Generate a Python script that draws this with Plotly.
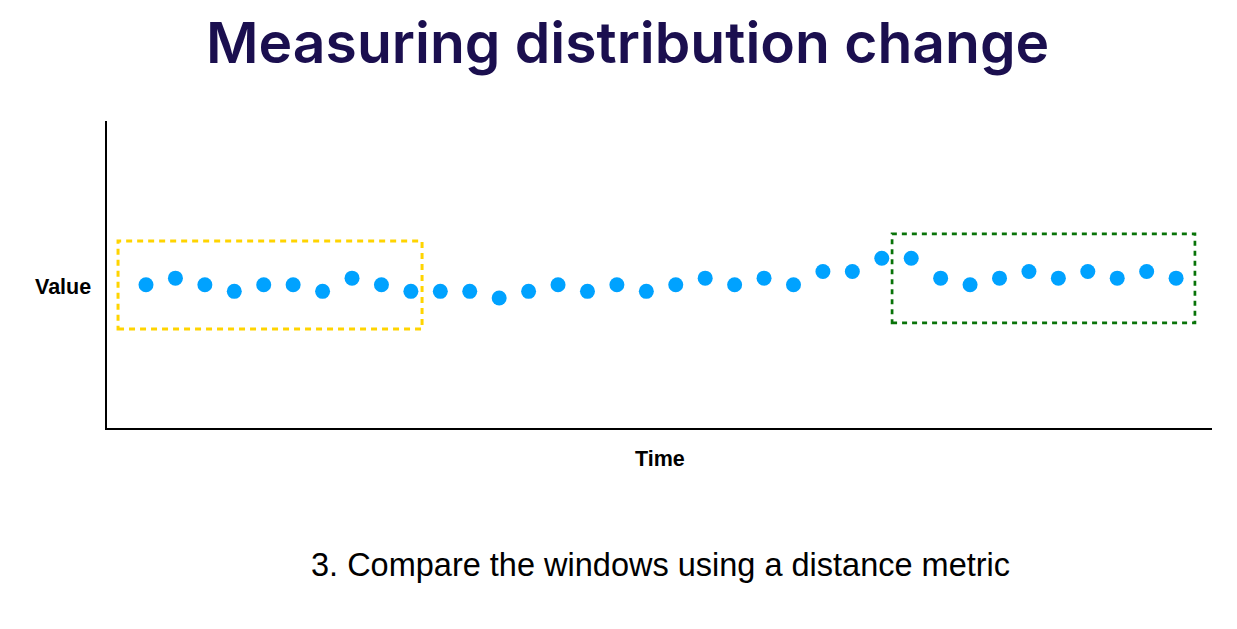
import plotly.graph_objects as go

# Data: value levels (one point per time step)
time_idx = list(range(36))
values = [2, 3, 2, 1, 2, 2, 1, 3, 2, 1,
          1, 1, 0, 1, 2, 1, 2, 1, 2, 3,
          2, 3, 2, 4, 4, 6, 6, 3, 2, 3,
          4, 3, 4, 3, 4, 3]

title_text = "Measuring distribution change"
subtitle_text = "3. Compare the windows using a distance metric"
x_label = "Time"
y_label = "Value"

OFF = 8  # page body margin
W, H = 1237 - OFF, 629 - OFF
L, T = 107 - OFF, 121 - OFF
R = W - (1212 - OFF)
B = H - (428 - OFF)
PW, PH = W - L - R, H - T - B


def py(y_px):
    """paper y from reference pixel y"""
    return ((428 - y_px)) / PH


def px_shift(x_px):
    return x_px - (107 + PW / 2)


fig = go.Figure()
fig.add_trace(go.Scatter(
    x=time_idx, y=values, mode="markers",
    marker=dict(size=15, color="#00A2FF", line=dict(width=0)),
    hoverinfo="skip", showlegend=False,
))

# dashed window boxes
fig.add_shape(type="rect", xref="x", yref="y",
              x0=-0.95, x1=9.38, y0=-4.7, y1=8.64,
              line=dict(color="#FFD400", width=3, dash="6px,5px"))
fig.add_shape(type="rect", xref="x", yref="y",
              x0=25.35, x1=35.64, y0=-3.79, y1=9.7,
              line=dict(color="#087308", width=2.7, dash="5px,5px"))

fig.update_xaxes(range=[-1.325, 36.22], showline=True, linecolor="black",
                 linewidth=1.5, showgrid=False, zeroline=False,
                 showticklabels=False, ticks="")
fig.update_yaxes(range=[-19.7, 26.8], showline=True, linecolor="black",
                 linewidth=1.5, showgrid=False, zeroline=False,
                 showticklabels=False, ticks="")

fig.add_annotation(text=title_text, xref="paper", yref="paper",
                   x=0.5, xanchor="center", yanchor="middle",
                   y=py(42), xshift=px_shift(627),
                   showarrow=False,
                   font=dict(family="Inter", size=57, weight=600,
                             color="#1B0F4F"))
fig.add_annotation(text=subtitle_text, xref="paper", yref="paper",
                   x=0.5, xanchor="center", yanchor="middle",
                   y=py(565), xshift=px_shift(660),
                   showarrow=False,
                   font=dict(family="Liberation Sans", size=32.5, color="black"))
fig.add_annotation(text="<b>" + y_label + "</b>", xref="paper", yref="paper",
                   x=0, xanchor="right", xshift=-14,
                   y=py(287), yanchor="middle",
                   showarrow=False,
                   font=dict(family="Liberation Sans", size=21.5, color="black"))
fig.add_annotation(text="<b>" + x_label + "</b>", xref="paper", yref="paper",
                   x=0.5, xanchor="center", xshift=px_shift(660),
                   y=py(459), yanchor="middle",
                   showarrow=False,
                   font=dict(family="Liberation Sans", size=21.5, color="black"))

fig.update_layout(width=W, height=H, margin=dict(l=L, r=R, t=T, b=B),
                  plot_bgcolor="white", paper_bgcolor="white")

fig.write_html("out.html")
